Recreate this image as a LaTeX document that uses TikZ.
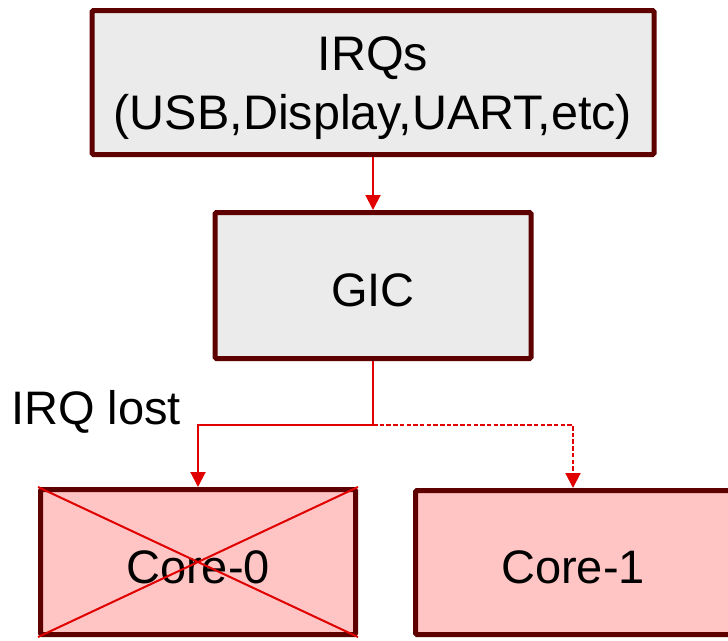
\documentclass[tikz,border=0pt]{standalone}
\usepackage{fontspec}
\setmainfont{Liberation Sans}
\usetikzlibrary{arrows.meta}
\definecolor{boxborder}{HTML}{5E0000}
\definecolor{greyfill}{HTML}{EBEBEB}
\definecolor{pinkfill}{HTML}{FFC4C4}
\definecolor{arrred}{HTML}{E00000}
\tikzset{
  box/.style={draw=boxborder, line width=5pt, rounded corners=1.5pt, inner sep=0pt,
    font=\fontsize{47}{60}\selectfont, align=center},
  greybox/.style={box, fill=greyfill},
  pinkbox/.style={box, fill=pinkfill},
  arr/.style={draw=arrred, line width=2pt, -{Triangle[width=15pt,length=15pt]}},
  lbl/.style={font=\fontsize{47}{60}\selectfont, inner sep=0pt},
}
\begin{document}
\begin{tikzpicture}[x=1pt,y=-1pt]
\clip (0,0) rectangle (728,640);
\fill[white] (0,0) rectangle (728,640);
\node[greybox, minimum width=562pt, minimum height=144pt] (irq) at (373,82.5) {};
\node[lbl, align=center, font=\fontsize{48.5}{59}\selectfont] (irqtext) at (373,88)
  {IRQs\\(USB,Display,UART,etc)};
\node[greybox, minimum width=316pt, minimum height=146pt] (gic) at (373,285.5) {};
\node[lbl] (gictext) at (373,290) {GIC};
\node[pinkbox, minimum width=315pt, minimum height=145pt] (core0) at (198,562) {};
\node[lbl] (core0text) at (198,567) {Core-0};
\node[pinkbox, minimum width=315pt, minimum height=144pt] (core1) at (573,562.5) {};
\node[lbl] (core1text) at (573,567) {Core-1};
\draw[arrred, line width=2pt] (core0.north west) -- (core0.south east)
  (core0.north east) -- (core0.south west);
\coordinate (j) at (373,425);
\draw[arr] (irq.south) -- (gic.north);
\draw[draw=arrred, line width=2pt] (gic.south) -- (j);
\draw[arr] (j) -| (core0.north);
\draw[arr, dash pattern=on 4.5pt off 2.2pt] (j) -| (core1.north);
\node[lbl, anchor=west] (lost) at (11,412) {IRQ lost};
\end{tikzpicture}
\end{document}
